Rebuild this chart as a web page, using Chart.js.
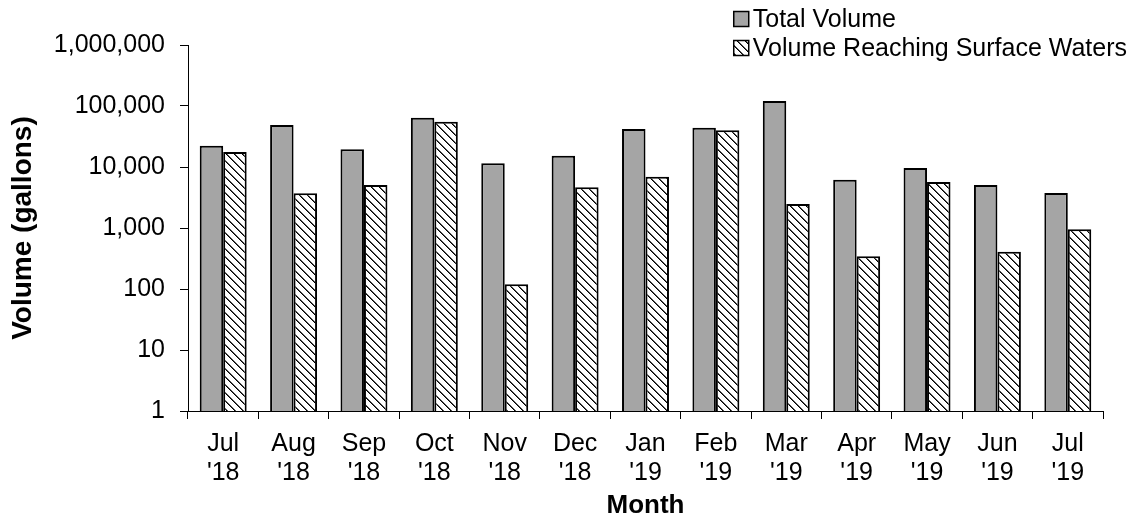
<!DOCTYPE html>
<html><head><meta charset="utf-8">
<script src="https://cdn.jsdelivr.net/npm/chart.js@4.4.1/dist/chart.umd.min.js"></script>
<style>html,body{margin:0;padding:0;background:#fff}#wrap{width:1133px;height:529px}</style>
</head><body><div id="wrap"><canvas id="c" width="1133" height="529"></canvas></div>
<script>
const categories = [["Jul","'18"],["Aug","'18"],["Sep","'18"],["Oct","'18"],["Nov","'18"],["Dec","'18"],["Jan","'19"],["Feb","'19"],["Mar","'19"],["Apr","'19"],["May","'19"],["Jun","'19"],["Jul","'19"]];
const totalVolume = [22400, 48800, 19500, 64300, 11500, 15300, 42000, 44100, 120800, 6190, 9630, 5070, 3750];
const surfaceVolume = [17600, 3700, 5070, 55300, 120, 4650, 6940, 39900, 2470, 344, 5680, 409, 951];
const yTickValues = [1, 10, 100, 1000, 10000, 100000, 1000000];
const seriesNames = ["Total Volume", "Volume Reaching Surface Waters"];

const FONT = '"Liberation Sans", Arial, sans-serif';
const FS = 25;

function makeHatch() {
  const p = document.createElement('canvas');
  p.width = 8; p.height = 8;
  const g = p.getContext('2d');
  g.fillStyle = '#ffffff'; g.fillRect(0, 0, 8, 8);
  g.fillStyle = '#000000';
  for (let i = 0; i < 8; i++) { g.fillRect(i, i, 1, 1); }
  g.fillStyle = '#555555';
  for (let i = 0; i < 8; i++) { g.fillRect((i + 1) % 8, i, 1, 1); }
  return g.createPattern(p, 'repeat');
}
const hatch = makeHatch();

const legendPlugin = {
  id: 'customLegend',
  afterDraw(chart) {
    const ctx = chart.ctx;
    ctx.save();
    ctx.font = FS + 'px ' + FONT;
    const widths = chart.data.datasets.map(d => ctx.measureText(d.label).width);
    const maxW = Math.max(...widths);
    const textX = 1127 - maxW;
    const box = 15;
    const boxX = textX - box - 4;
    const rowsY = [19, 48];
    chart.data.datasets.forEach((d, i) => {
      const y = rowsY[i];
      ctx.fillStyle = d.backgroundColor;
      ctx.fillRect(boxX, y - box / 2, box, box);
      ctx.strokeStyle = '#000';
      ctx.lineWidth = 1.5;
      ctx.strokeRect(boxX, y - box / 2, box, box);
      ctx.fillStyle = '#000';
      ctx.textBaseline = 'middle';
      ctx.textAlign = 'left';
      ctx.fillText(d.label, textX, y + 1);
    });
    ctx.restore();
  }
};

new Chart(document.getElementById('c'), {
  type: 'bar',
  data: {
    labels: categories,
    datasets: [
      { label: seriesNames[0], data: totalVolume, backgroundColor: '#a5a5a5', borderColor: '#000', borderWidth: 2, borderSkipped: 'start' },
      { label: seriesNames[1], data: surfaceVolume, backgroundColor: hatch, borderColor: '#000', borderWidth: 2, borderSkipped: 'start' }
    ]
  },
  options: {
    responsive: false,
    animation: false,
    devicePixelRatio: 1,
    layout: { padding: { top: 45, right: 30, bottom: 0, left: 0 } },
    datasets: { bar: { categoryPercentage: 0.667, barPercentage: 1.0 } },
    plugins: { legend: { display: false }, tooltip: { enabled: false } },
    scales: {
      x: {
        type: 'category',
        grid: { display: true, drawOnChartArea: false, drawTicks: true, tickLength: 8, color: '#000', lineWidth: 1, offset: true },
        border: { display: true, color: '#000', width: 1 },
        ticks: { color: '#000', font: { family: FONT, size: FS, lineHeight: 1.16 }, padding: 11, maxRotation: 0, autoSkip: false },
        title: { display: true, text: 'Month', color: '#000', font: { family: FONT, size: 26, weight: 'bold', lineHeight: 1.2 }, padding: { top: 0, bottom: 8 } },
        afterFit(s) { s.height = 118; }
      },
      y: {
        type: 'logarithmic',
        min: 1, max: 1000000,
        grid: { display: true, drawOnChartArea: false, drawTicks: true, tickLength: 8, color: '#000', lineWidth: 1 },
        border: { display: true, color: '#000', width: 1 },
        afterBuildTicks(s) { s.ticks = yTickValues.map(v => ({ value: v, major: true })); },
        ticks: { color: '#000', font: { family: FONT, size: FS }, padding: 15, autoSkip: false,
          callback: v => Number(v).toLocaleString('en-US') },
        title: { display: true, text: 'Volume (gallons)', color: '#000', font: { family: FONT, size: 28, weight: 'bold', lineHeight: 1.2 }, padding: { top: 6, bottom: 0 } },
        afterFit(s) { s.width = 188; }
      }
    }
  },
  plugins: [legendPlugin]
});
</script>
</body></html>
